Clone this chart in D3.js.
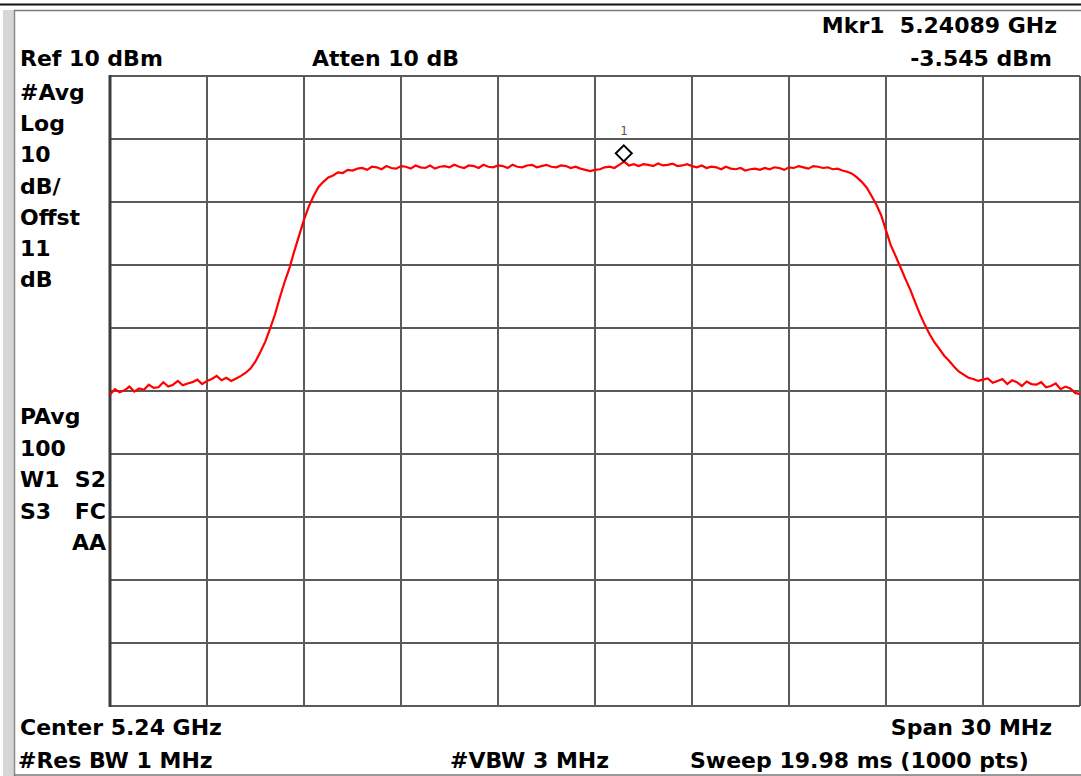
<!DOCTYPE html>
<html>
<head>
<meta charset="utf-8">
<script src="https://cdn.jsdelivr.net/npm/d3@7"></script>
<style>
  html, body { margin: 0; padding: 0; background: #ffffff; }
  svg { display: block; }
  text { font-family: "DejaVu Sans", Verdana, sans-serif; font-weight: bold; fill: #000; }
</style>
</head>
<body>
<svg id="chart" width="1081" height="776"></svg>
<script>
// ---- Data ----
const centerMHz = 5240;
const spanMHz = 30;
const refLevel = 10;          // dBm (top of screen)
const dbPerDiv = 10;
const divisions = 10;
// Trace levels (dBm), evenly spaced sweep points across the span
const traceLevels = [
  -40.6, -39.7, -40.2, -39.9, -39.3, -40.1, -39.6, -39.8, -39.0, -39.5,
  -39.4, -38.6, -39.3, -39.0, -38.4, -39.1, -38.8, -38.6, -38.2, -38.9,
  -38.4, -38.1, -37.6, -38.3, -37.9, -38.4, -38.0, -37.6, -37.1, -36.4,
  -35.3, -33.8, -32.2, -30.1, -27.9, -25.2, -22.7, -20.5, -17.8, -15.3,
  -12.8, -10.7, -9.0, -7.6, -6.8, -6.1, -5.8, -5.3, -5.4, -4.9,
  -5.0, -4.7, -4.6, -4.9, -4.4, -4.5, -4.8, -4.3, -4.6, -4.7,
  -4.3, -4.4, -4.7, -4.2, -4.5, -4.6, -4.2, -4.7, -4.4, -4.3,
  -4.5, -4.1, -4.4, -4.6, -4.2, -4.3, -4.6, -4.1, -4.4, -4.5,
  -4.2, -4.3, -4.6, -4.1, -4.4, -4.5, -4.2, -4.1, -4.5, -4.3,
  -4.1, -4.4, -4.5, -4.2, -4.3, -4.6, -4.4, -4.7, -4.9, -5.1,
  -4.9, -4.8, -4.5, -4.4, -4.6, -4.1, -3.6, -4.2, -4.0, -4.3,
  -4.0, -4.1, -4.3, -3.9, -4.2, -4.1, -3.9, -4.3, -4.2, -4.0,
  -4.3, -4.5, -4.2, -4.6, -4.4, -4.5, -4.8, -4.4, -4.7, -4.8,
  -4.6, -5.0, -4.8, -4.7, -4.9, -4.6, -4.8, -4.5, -4.6, -4.9,
  -4.5, -4.6, -4.3, -4.5, -4.7, -4.3, -4.4, -4.6, -4.5, -4.8,
  -4.7, -5.0, -5.2, -5.5, -6.1, -6.8, -7.7, -9.0, -10.4, -12.1,
  -14.5, -16.9, -18.6, -20.4, -22.2, -23.9, -25.9, -27.8, -29.5, -31.0,
  -32.3, -33.3, -34.4, -35.2, -36.1, -36.9, -37.4, -37.9, -38.1, -38.4,
  -38.2, -38.0, -38.7, -38.4, -38.1, -38.9, -38.3, -38.6, -39.2, -38.5,
  -38.9, -39.0, -38.6, -39.4, -39.2, -38.8, -39.7, -39.3, -39.6, -40.3,
  -40.5
];
const markerFreqMHz = 5240.89;
const markerLevel = -3.545;
const markerLabel = "1";

const topLabels = [
  { text: "Mkr1  5.24089 GHz", x: 1057, y: 33, anchor: "end" },
  { text: "Ref 10 dBm", x: 20, y: 66, anchor: "start" },
  { text: "Atten 10 dB", x: 312, y: 66, anchor: "start" },
  { text: "-3.545 dBm", x: 1052, y: 66, anchor: "end" }
];
const sideLabels = ["#Avg", "Log", "10", "dB/", "Offst", "11", "dB"];
const sideLabels2 = [["PAvg", ""], ["100", ""], ["W1", "S2"], ["S3", "FC"], ["", "AA"]];
const bottomLabels = [
  { text: "Center 5.24 GHz", x: 20, y: 735, anchor: "start" },
  { text: "Span 30 MHz", x: 1052, y: 735, anchor: "end" },
  { text: "#Res BW 1 MHz", x: 18, y: 768, anchor: "start" },
  { text: "#VBW 3 MHz", x: 450, y: 768, anchor: "start" },
  { text: "Sweep 19.98 ms (1000 pts)", x: 690, y: 768, anchor: "start" }
];

// ---- Drawing ----
const svg = d3.select("#chart");
const plot = { left: 110, right: 1080, top: 76, bottom: 706 };

const x = d3.scaleLinear()
  .domain([centerMHz - spanMHz / 2, centerMHz + spanMHz / 2])
  .range([plot.left, plot.right]);
const y = d3.scaleLinear()
  .domain([refLevel - dbPerDiv * divisions, refLevel])
  .range([plot.bottom, plot.top]);

// frame decorations
svg.append("rect").attr("x", 3).attr("y", 10).attr("width", 11).attr("height", 766).attr("fill", "#d6d6d6");
svg.append("line").attr("x1", 14.5).attr("x2", 14.5).attr("y1", 10).attr("y2", 776).attr("stroke", "#8a8a8a").attr("stroke-width", 1.5);
svg.append("line").attr("x1", 0).attr("x2", 1081).attr("y1", 4.5).attr("y2", 4.5).attr("stroke", "#111").attr("stroke-width", 2);
svg.append("line").attr("x1", 14).attr("x2", 1081).attr("y1", 10.5).attr("y2", 10.5).attr("stroke", "#777").attr("stroke-width", 1.5);
svg.append("line").attr("x1", 14).attr("x2", 1081).attr("y1", 775).attr("y2", 775).attr("stroke", "#777").attr("stroke-width", 1.5);

// grid
const xTicks = d3.range(0, divisions + 1).map(i => x.domain()[0] + i * spanMHz / divisions);
const yTicks = d3.range(0, divisions + 1).map(i => refLevel - i * dbPerDiv);
const grid = svg.append("g");
grid.selectAll("line.v").data(xTicks).join("line")
  .attr("x1", d => x(d)).attr("x2", d => x(d))
  .attr("y1", plot.top).attr("y2", plot.bottom)
  .attr("stroke", "#5a5a5a").attr("stroke-width", 2);
grid.selectAll("line.h").data(yTicks).join("line")
  .attr("x1", plot.left).attr("x2", plot.right)
  .attr("y1", d => y(d)).attr("y2", d => y(d))
  .attr("stroke", "#5a5a5a").attr("stroke-width", 2);
grid.append("line").attr("x1", plot.left).attr("x2", plot.left)
  .attr("y1", plot.top - 1).attr("y2", plot.bottom + 1).attr("stroke", "#3c3c3c").attr("stroke-width", 3);

// trace
const n = traceLevels.length;
const traceData = traceLevels.map((v, i) => ({
  f: x.domain()[0] + i * spanMHz / (n - 1),
  v
}));
const line = d3.line().x(d => x(d.f)).y(d => y(d.v));
svg.append("path").datum(traceData)
  .attr("d", line)
  .attr("fill", "none")
  .attr("stroke", "#ff0000")
  .attr("stroke-width", 2.2)
  .attr("stroke-linejoin", "miter");

// marker
const mx = x(markerFreqMHz), my = y(markerLevel);
const h = 8;
svg.append("path")
  .attr("d", `M${mx},${my - 2 * h} L${mx + h},${my - h} L${mx},${my} L${mx - h},${my - h} Z`)
  .attr("fill", "#fff").attr("stroke", "#000").attr("stroke-width", 2);
svg.append("text").attr("x", mx).attr("y", my - 2 * h - 10)
  .attr("text-anchor", "middle")
  .style("font-family", "'DejaVu Sans Mono', monospace").style("font-weight", "normal")
  .style("font-size", "12px").style("fill", "#555")
  .text(markerLabel);

// labels
const fs = "22px";
svg.append("g").selectAll("text").data(topLabels.concat(bottomLabels)).join("text")
  .attr("x", d => d.x).attr("y", d => d.y)
  .attr("text-anchor", d => d.anchor)
  .style("font-size", fs)
  .attr("xml:space", "preserve")
  .text(d => d.text);

svg.append("g").selectAll("text").data(sideLabels).join("text")
  .attr("x", 20).attr("y", (d, i) => 100 + i * 31.2)
  .style("font-size", fs)
  .text(d => d);

const side2 = svg.append("g");
sideLabels2.forEach((pair, i) => {
  const yy = 424 + i * 31.5;
  if (pair[0]) side2.append("text").attr("x", 20).attr("y", yy).style("font-size", fs).text(pair[0]);
  if (pair[1]) side2.append("text").attr("x", 106).attr("y", yy).attr("text-anchor", "end").style("font-size", fs).text(pair[1]);
});
</script>
</body>
</html>
